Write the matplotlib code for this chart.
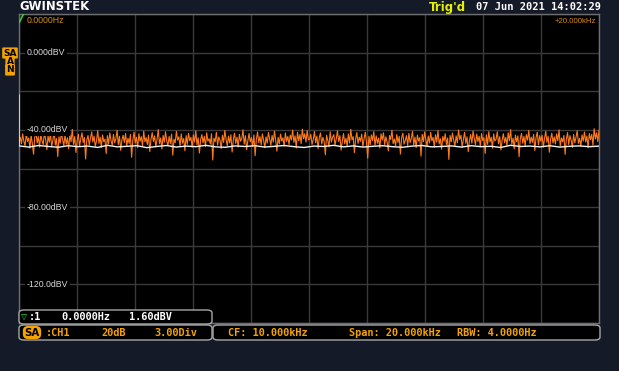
import numpy as np
import matplotlib.pyplot as plt
from matplotlib.patches import FancyBboxPatch
from matplotlib.transforms import blended_transform_factory

# live trace (orange), dBV, evenly spaced bins 0..20 kHz
live_dbv = [
    -46.5, -43.8, -47.2, -42.1, -45.9, -48.3, -41.7, -46.0, -44.2, -49.5, -42.8, -47.1, -52.6, -44.0, -40.9, -46.8, -43.5, -48.9, -42.4, -45.7,
    -47.6, -41.3, -44.9, -50.2, -43.1, -46.4, -42.0, -48.7, -45.3, -40.6, -47.9, -44.5, -53.8, -43.6, -46.9, -41.8, -45.0, -48.1, -42.7, -47.4,
    -44.1, -49.8, -42.5, -46.2, -39.8, -47.5, -43.4, -51.7, -45.6, -42.2, -48.4, -44.7, -41.5, -46.6, -43.9, -55.1, -45.2, -42.9, -47.8, -44.4,
    -41.1, -46.3, -43.2, -48.6, -45.8, -40.4, -47.0, -43.7, -49.1, -42.6, -46.1, -44.8, -52.3, -43.0, -47.3, -41.6, -45.5, -48.0, -42.3, -46.7,
    -44.6, -40.2, -47.7, -43.3, -50.6, -45.1, -42.8, -46.5, -41.9, -48.2, -44.3, -47.0, -42.4, -54.2, -45.4, -41.2, -46.8, -43.8, -49.3, -42.0,
    -45.9, -43.5, -48.5, -40.7, -46.2, -44.0, -47.6, -42.7, -51.2, -44.9, -41.4, -46.0, -43.1, -48.8, -45.0, -39.9, -47.2, -44.2, -49.9, -42.9,
    -46.4, -41.0, -45.7, -48.1, -43.4, -47.1, -42.2, -53.1, -44.8, -46.6, -40.8, -45.3, -43.6, -48.4, -42.1, -46.9, -44.5, -50.8, -43.0, -47.5,
    -41.8, -45.6, -43.9, -49.0, -42.6, -46.3, -40.5, -47.8, -44.1, -52.0, -45.2, -42.4, -46.7, -43.3, -48.7, -41.5, -45.8, -44.6, -47.3, -42.0,
    -55.6, -44.3, -46.1, -41.3, -47.9, -43.7, -45.4, -49.6, -42.8, -46.5, -40.3, -44.9, -48.2, -43.2, -46.8, -42.5, -51.5, -45.1, -41.7, -47.0,
    -43.8, -48.9, -42.3, -45.9, -44.4, -40.0, -47.4, -43.0, -50.3, -45.6, -41.9, -46.2, -44.0, -48.6, -42.6, -53.4, -45.0, -41.1, -46.6, -43.5,
    -47.7, -42.1, -45.3, -49.2, -43.6, -46.9, -41.4, -44.7, -48.0, -42.9, -46.3, -40.6, -45.5, -51.0, -43.9, -47.2, -42.2, -45.8, -44.1, -48.5,
    -41.6, -46.0, -43.4, -47.6, -42.7, -45.2, -40.1, -46.4, -43.1, -49.4, -41.2, -45.7, -42.4, -47.1, -39.6, -44.6, -42.0, -46.3, -40.4, -45.1,
    -44.9, -42.3, -47.5, -45.1, -40.8, -46.7, -43.2, -49.7, -44.0, -41.6, -47.3, -43.9, -46.1, -52.9, -42.8, -45.4, -48.8, -41.0, -46.3, -43.7,
    -42.5, -47.9, -44.6, -40.5, -46.0, -43.0, -50.5, -45.7, -41.9, -47.2, -44.3, -48.4, -42.1, -46.8, -39.7, -45.2, -43.5, -51.8, -44.8, -41.4,
    -47.0, -43.8, -45.9, -42.2, -48.6, -44.5, -41.2, -46.4, -54.6, -43.3, -47.7, -42.6, -45.6, -40.9, -48.0, -43.1, -46.9, -44.2, -49.4, -42.0,
    -45.3, -41.5, -47.6, -43.6, -46.2, -50.9, -42.9, -45.0, -40.2, -47.1, -44.7, -48.3, -42.4, -46.5, -43.4, -52.5, -44.1, -41.7, -47.4, -45.5,
    -43.0, -48.1, -41.8, -46.6, -44.4, -40.7, -47.8, -43.7, -49.2, -42.7, -45.8, -44.0, -53.6, -42.3, -46.1, -41.1, -45.1, -48.5, -43.2, -46.8,
    -41.3, -45.7, -43.9, -48.9, -42.5, -46.4, -40.4, -47.3, -44.6, -50.0, -43.4, -45.9, -42.0, -47.6, -44.2, -55.3, -42.9, -46.2, -41.6, -45.4,
    -48.2, -43.1, -46.7, -40.1, -45.0, -42.8, -49.0, -44.9, -41.3, -47.0, -43.6, -51.3, -45.6, -42.4, -46.9, -40.6, -44.5, -47.7, -42.2, -46.0,
    -43.3, -48.7, -41.9, -45.5, -44.1, -52.2, -42.6, -47.5, -40.9, -46.3, -43.8, -49.5, -42.1, -45.8, -44.8, -41.0, -47.2, -43.5, -50.4, -45.2,
    -42.0, -46.6, -43.9, -48.0, -41.5, -45.7, -39.9, -47.4, -44.3, -49.8, -42.7, -46.1, -43.1, -53.9, -44.6, -41.8, -46.9, -43.4, -48.3, -42.5,
    -45.3, -40.3, -47.1, -43.7, -46.5, -42.3, -50.7, -44.0, -41.2, -47.8, -43.0, -45.9, -42.8, -48.9, -44.5, -40.7, -46.4, -43.3, -51.6, -45.0,
    -41.7, -46.8, -43.6, -47.3, -42.1, -45.6, -40.0, -48.4, -44.2, -46.2, -42.9, -52.7, -44.9, -41.4, -47.6, -43.0, -45.4, -49.1, -42.4, -46.7,
    -43.9, -40.5, -47.0, -44.4, -48.6, -42.6, -45.8, -41.1, -46.3, -43.2, -49.3, -41.9, -45.1, -42.3, -47.9, -39.4, -44.7, -41.5, -46.1, -40.2,
]

# averaged trace (white), first point is the DC spike
avg_dbv = [
    -22.0, -48.3, -48.9, -48.1, -48.6, -49.0, -48.2, -48.7, -48.4, -49.1, -48.0, -48.8, -48.5, -48.2, -49.2, -48.6,
    -48.1, -48.9, -48.4, -48.7, -48.0, -48.8, -49.0, -48.3, -48.6, -48.2, -48.9, -48.5, -48.1, -48.7, -49.1, -48.4,
    -48.6, -48.0, -48.8, -48.3, -48.9, -48.5, -48.2, -48.7, -49.0, -48.4, -48.1, -48.8, -48.6, -48.3, -48.9, -48.2,
    -48.7, -48.5, -49.1, -48.0, -48.6, -48.4, -48.8, -48.2, -48.9, -48.5, -48.3, -48.7, -48.4,
]

f_start, f_stop = 0, 20000
ref_level = 20
db_per_div = 20
n_ydiv = 8
ylabels = {0: "0.000dBV", -40: "-40.00dBV", -80: "-80.00dBV", -120: "-120.0dBV"}

live_freq = np.linspace(f_start, f_stop, len(live_dbv))
avg_freq = np.concatenate([[f_start], np.linspace(f_start, f_stop, len(avg_dbv) - 1)])

W, H = 619, 371
bg = "#141a27"
orange = "#f4a300"
mono = ["DejaVu Sans Mono", "DejaVu Sans"]


def fx(px):
    return px / W


def fy(py):
    return 1 - py / H


fig = plt.figure(figsize=(W / 100, H / 100), dpi=100, facecolor=bg)
ax = fig.add_axes([fx(19), fy(323), fx(599) - fx(19), fy(14) - fy(323)])
ax.set_facecolor("black")
ax.plot(live_freq, live_dbv, color="#ff7a1c", lw=0.8, zorder=3)
ax.plot(avg_freq, avg_dbv, color="#f2f2f2", lw=1.0, zorder=4)
ax.plot([f_start], [ref_level - 1.8], marker="v", ms=8, mfc="none", mec="#2fd02f", mew=1.2, zorder=5)

ax.set_xlim(f_start, f_stop)
ax.set_ylim(ref_level - n_ydiv * db_per_div, ref_level)
ax.set_xticks(np.arange(f_start, f_stop + 1, (f_stop - f_start) / 10))
ax.set_yticks(np.arange(ref_level - n_ydiv * db_per_div, ref_level + 1, db_per_div))
ax.grid(color="#3a3a3a", lw=1)
ax.tick_params(length=0, labelbottom=False, labelleft=False)
for s in ax.spines.values():
    s.set_color("#6e6e6e")
    s.set_linewidth(1)

tr = blended_transform_factory(ax.transAxes, ax.transData)
for lvl, lab in ylabels.items():
    ax.text(0.0135, lvl, lab, transform=tr, color="#d8d8d8", fontsize=6.3,
            family="Liberation Sans", va="center", ha="left", zorder=6,
            bbox=dict(facecolor="black", edgecolor="none", pad=1.2))
ax.text(0.0135, 0.992, "0.0000Hz", transform=ax.transAxes, color="#d88e10",
        fontsize=6.3, family="Liberation Sans", va="top", ha="left")
ax.text(0.995, 0.988, "+20.000kHz", transform=ax.transAxes, color="#d88e10",
        fontsize=5.6, family="Liberation Sans", va="top", ha="right")

# top bar
fig.text(fx(19), fy(7), "GWINSTEK", color="white", fontsize=8.4, fontweight="bold", va="center", ha="left")
fig.text(fx(429), fy(7), "Trig'd", color="#e6f000", fontsize=8.5, fontweight="bold", va="center", ha="left")
fig.text(fx(476), fy(7), "07 Jun 2021 14:02:29", color="white", fontsize=7.5, fontweight="bold",
         family=mono, va="center", ha="left")

# left badges
for txt, y in [("SA", 53), ("A", 62), ("N", 70)]:
    fig.text(fx(10), fy(y), txt, color="black", fontsize=6.5, fontweight="bold", ha="center", va="center",
             bbox=dict(boxstyle="round,pad=0.12", facecolor=orange, edgecolor="none"))


def box(x0, y0, x1, y1):
    p = FancyBboxPatch((fx(x0), fy(y1)), fx(x1) - fx(x0), fy(y0) - fy(y1),
                       boxstyle="round,pad=0,rounding_size=0.008", transform=fig.transFigure,
                       facecolor="black", edgecolor="#a8a8a8", lw=1, zorder=2)
    fig.add_artist(p)


box(19, 310, 212, 324)
box(19, 325, 212, 340)
box(213, 325, 600, 340)

kw = dict(fontsize=7.4, fontweight="bold", family=mono, va="center", ha="left", zorder=4)
fig.text(fx(21), fy(317), "\u25bd", color="#2fd02f", **kw)
fig.text(fx(29), fy(317), ":1", color="white", **kw)
fig.text(fx(61), fy(317), "0.0000Hz", color="white", **kw)
fig.text(fx(129), fy(317), "1.60dBV", color="white", **kw)

fig.text(fx(32), fy(332.5), "SA", color="black", fontsize=7.4, fontweight="bold", ha="center", va="center",
         zorder=4, bbox=dict(boxstyle="round,pad=0.15,rounding_size=0.5", facecolor=orange, edgecolor="none"))
fig.text(fx(46), fy(332.5), ":CH1", color=orange, **kw)
fig.text(fx(101), fy(332.5), "20dB", color=orange, **kw)
fig.text(fx(154), fy(332.5), "3.00Div", color=orange, **kw)
fig.text(fx(228), fy(332.5), "CF: 10.000kHz", color=orange, **kw)
fig.text(fx(349), fy(332.5), "Span: 20.000kHz", color=orange, **kw)
fig.text(fx(457), fy(332.5), "RBW: 4.0000Hz", color=orange, **kw)

fig.savefig("out.png", dpi=100, facecolor=bg)
